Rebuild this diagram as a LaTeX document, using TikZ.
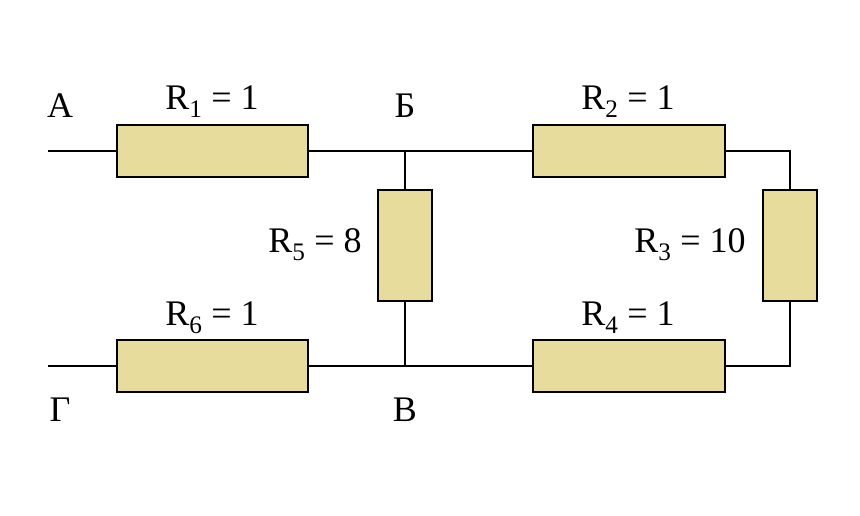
\documentclass[tikz,border=0pt]{standalone}
\usepackage{fontspec}
\setmainfont{Liberation Serif}
\begin{document}
\begin{tikzpicture}[x=1pt,y=-1pt,
  res/.style={draw=black,line width=1.3pt,fill=resfill,inner sep=0pt},
  wire/.style={line width=1.3pt},
  lab/.style={font=\fontsize{36}{40}\selectfont,inner sep=0pt}]
\definecolor{resfill}{HTML}{E8DC9C}
\useasboundingbox (0,0) rectangle (860,516);
\node[res,minimum width=191pt,minimum height=52pt] (r1) at (212.5,151) {};
\node[res,minimum width=192pt,minimum height=52pt] (r2) at (629,151) {};
\node[res,minimum width=54pt,minimum height=111pt] (r3) at (790,245.5) {};
\node[res,minimum width=192pt,minimum height=52pt] (r4) at (629,366) {};
\node[res,minimum width=54pt,minimum height=111pt] (r5) at (405,245.5) {};
\node[res,minimum width=191pt,minimum height=52pt] (r6) at (212.5,366) {};
\coordinate (a) at (48,151);
\coordinate (g) at (48,366);
\coordinate (b) at (405,151);
\coordinate (v) at (405,366);
\coordinate (tr) at (790,151);
\coordinate (br) at (790,366);
\draw[wire] (a) -- (r1.west) (r1.east) -- (b) -- (r2.west) (r2.east) -- (tr) -- (r3.north)
  (r3.south) -- (br) -- (r4.east) (r4.west) -- (v) -- (r6.east) (r6.west) -- (g)
  (b) -- (r5.north) (r5.south) -- (v);
\node[lab] (la) at (60,106) {А};
\node[lab] (lb) at (405,106) {Б};
\node[lab] (lg) at (60,410) {Г};
\node[lab] (lv) at (405,410) {В};
\node[lab] (l1) at (212,102) {R\textsubscript{1} = 1};
\node[lab] (l2) at (628,102) {R\textsubscript{2} = 1};
\node[lab] (l3) at (690,245) {R\textsubscript{3} = 10};
\node[lab] (l5) at (315,245) {R\textsubscript{5} = 8};
\node[lab] (l6) at (212,318) {R\textsubscript{6} = 1};
\node[lab] (l4) at (628,318) {R\textsubscript{4} = 1};
\end{tikzpicture}
\end{document}
